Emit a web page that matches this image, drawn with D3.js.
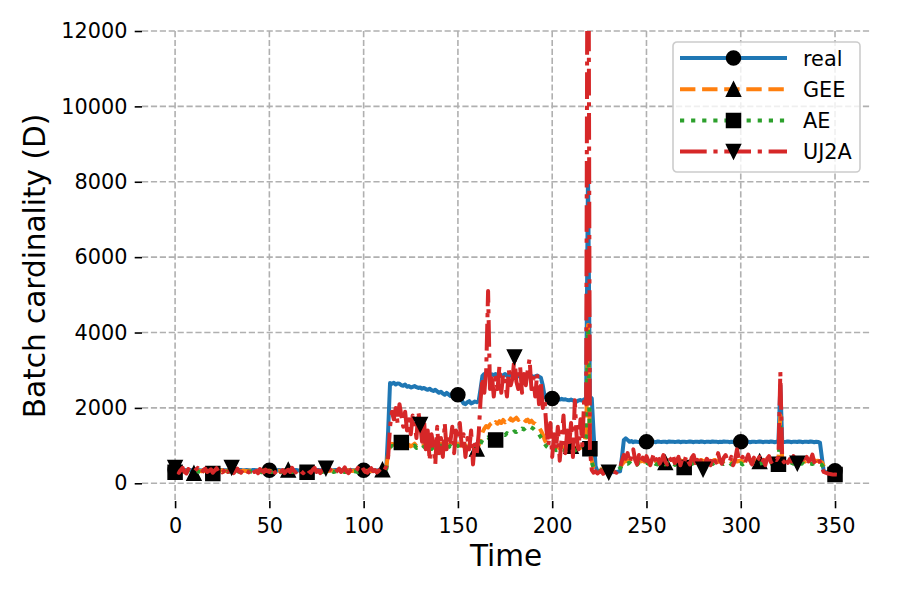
<!DOCTYPE html>
<meta charset="utf-8">
<style>
body { margin: 0; background: #fff; }
text { font-family: "DejaVu Sans", sans-serif; fill: #000; }
.grid line { stroke: #b0b0b0; stroke-width: 1.6; stroke-dasharray: 6.2,2.7; }
.axis-title { font-size: 29.5px; }
</style>
<body>

<script src="https://d3js.org/d3.v7.min.js"></script>
<script>
// values, one per time step (t = 0 .. 351)
const real = [
  360,350,345,355,340,350,345,338,352,347, 343,350,355,348,340,346,352,345,350,343,
  348,352,345,340,350,355,347,343,350,346, 352,345,340,348,355,350,342,346,351,345,
  340,350,355,347,343,350,346,352,345,340, 348,355,350,342,346,351,345,340,350,355,
  347,343,350,346,352,345,340,348,355,350, 342,346,351,345,340,350,355,347,343,350,
  346,352,345,340,348,355,350,342,346,351, 345,340,350,355,347,343,350,346,352,345,
  348,355,350,342,346,351,345,340,350,355, 347,352,380,1400,2660,2640,2665,2620,2650,2640,
  2600,2590,2620,2560,2580,2540,2560,2580,2550,2530, 2540,2510,2530,2500,2480,2510,2470,2450,2480,2440,
  2400,2430,2380,2350,2400,2360,2320,2380,2340,2370, 2350,2300,2200,2120,2100,2150,2180,2120,2140,2170,
  2150,2180,2500,2850,2900,2880,2920,2860,2890,2870, 2900,2860,2880,2840,2870,2900,2850,2880,2860,2830,
  2870,2840,2860,2820,2850,2880,2840,2860,2830,2850, 2820,2840,2860,2830,2800,2600,2300,2260,2270,2250,
  2250,2240,2230,2250,2220,2240,2220,2230,2210,2200, 2220,2200,2180,2170,2200,2210,2190,2230,2250,8300,
  2300,2250,1300,450,320,300,310,295,305,300, 300,310,295,305,300,310,320,700,1150,1190,
  1150,1100,1120,1090,1110,1100,1095,1110,1105,1090, 1100,1110,1095,1105,1100,1090,1110,1100,1095,1105,
  1100,1090,1110,1100,1105,1095,1100,1110,1090,1100, 1105,1095,1100,1110,1100,1090,1105,1100,1095,1110,
  1100,1090,1105,1100,1095,1110,1100,1105,1090,1100, 1095,1110,1100,1105,1090,1100,1095,1110,1100,1090,
  1100,1105,1095,1110,1100,1090,1100,1105,1095,1100, 1110,1100,1090,1105,1100,1095,1110,1100,1090,1100,
  1120,2600,1100,1095,1100,1110,1100,1090,1105,1100, 1095,1110,1100,1090,1105,1100,1095,1110,1100,1090,
  1100,1095,1080,700,320,300,295,305,300,310, 330,300
];
const gee = [
  330,320,340,325,335,310,330,345,320,335, 265,315,340,330,320,345,325,335,310,330,
  340,325,335,320,330,345,315,330,340,325, 320,335,330,345,325,315,340,330,320,335,
  330,325,345,320,335,330,310,340,325,330, 335,320,330,345,325,335,315,330,340,325,
  355,345,320,335,325,330,340,315,330,335, 325,340,330,320,345,330,325,335,320,330,
  340,325,330,345,320,335,330,325,340,330, 320,335,345,330,325,340,330,320,335,330,
  345,325,330,340,320,335,330,325,345,330, 360,340,420,800,1000,1050,1020,1060,1040,1010,
  1030,1060,1000,1040,1020,980,1010,1050,990,1030, 1000,970,1020,990,1040,1000,960,1010,980,1030,
  1000,1050,990,1020,970,1010,1040,1000,1060,1020, 1050,1000,1040,980,1010,960,990,940,970,930,
  910,1000,1150,1350,1450,1520,1480,1560,1600,1540, 1620,1580,1650,1600,1680,1620,1700,1640,1720,1660,
  1700,1740,1680,1720,1660,1700,1650,1690,1620,1660, 1600,1580,1520,1480,1400,1300,1150,1050,1000,980,
  950,980,940,960,930,970,950,920,960,940, 980,950,930,960,980,940,1000,1100,1300,4200,
  900,600,420,380,360,340,370,350,330,360, 340,350,370,345,360,380,420,500,560,600,
  580,620,570,610,590,560,620,580,600,570, 610,590,560,600,620,580,570,610,590,600,
  550,610,590,580,620,560,600,590,610,580, 590,620,570,600,580,610,590,560,600,620,
  580,600,570,610,590,580,620,600,570,590, 610,580,600,590,620,570,600,610,580,590,
  600,570,610,590,580,620,600,590,610,580, 580,600,620,580,610,590,600,570,610,620,
  600,1800,600,590,610,580,600,620,590,600, 580,610,590,600,570,610,590,600,580,610,
  590,600,570,560,450,330,300,280,270,260, 255,250
];
const ae = [
  290,300,320,305,315,295,310,325,300,315, 305,295,320,310,300,325,305,315,290,310,
  260,305,315,300,310,325,295,310,320,305, 300,315,310,325,305,295,320,310,300,315,
  310,305,325,300,315,310,290,320,305,310, 315,300,310,325,305,315,295,310,320,305,
  310,325,300,315,305,310,320,295,310,315, 290,320,310,300,325,310,305,315,300,310,
  320,305,310,325,300,315,310,305,320,310, 300,315,325,310,305,320,310,300,315,310,
  325,305,310,320,300,315,310,305,325,310, 315,320,380,750,960,990,970,1000,980,960,
  1080,1000,950,990,970,930,960,1000,940,980, 950,920,970,940,990,950,910,960,930,980,
  950,1000,940,970,920,960,990,950,1010,970, 1000,950,990,940,970,920,950,900,930,890,
  880,950,1050,1150,1200,1180,1220,1160,1200,1170, 1150,1220,1260,1240,1300,1280,1330,1300,1360,1340,
  1380,1360,1420,1400,1450,1430,1480,1460,1510,1480, 1450,1400,1350,1300,1220,1150,1050,980,940,920,
  890,920,880,900,870,910,890,860,900,880, 910,890,870,900,920,880,940,1000,1200,4100,
  915,550,400,360,340,320,350,330,310,340, 320,330,350,325,340,360,400,470,510,530,
  520,550,500,540,510,490,550,520,530,500, 540,520,490,530,550,510,500,540,520,530,
  500,540,520,510,550,490,530,520,540,510, 420,480,500,530,510,540,520,490,530,550,
  510,530,500,540,520,510,550,530,500,520, 540,510,530,520,550,500,530,540,510,520,
  530,500,540,520,510,550,530,520,540,510, 520,530,550,510,540,520,530,500,540,520,
  505,1600,530,520,540,510,530,550,520,530, 510,540,520,530,500,540,520,530,510,540,
  520,530,500,490,420,310,290,270,260,250, 230,240
];
const uj2a = [
  420,330,280,350,410,300,260,380,340,310, 290,360,410,320,270,350,390,300,330,370,
  280,340,400,310,360,290,330,420,300,350, 420,270,330,390,310,280,360,400,320,290,
  350,410,300,330,270,380,340,290,360,320, 300,370,420,280,340,390,310,350,270,330,
  360,300,410,330,290,350,380,310,270,340, 390,320,280,360,410,300,340,270,350,380,
  400,290,360,400,330,280,340,390,300,350, 420,310,270,350,380,300,330,410,290,340,
  370,300,280,360,400,320,350,290,330,380, 310,350,450,700,1500,1900,1700,2000,1600,2100,
  1800,1500,1900,1400,1700,1300,1800,1600,1200,1900, 1560,1100,1700,900,1400,600,1300,1000,500,1500,
  800,1200,700,1600,900,1300,1100,1500,800,1400, 1200,1600,1000,1300,700,1200,900,1400,500,1100,
  800,1300,2200,2800,2400,3000,5100,2500,2900,2300, 2800,2500,3100,2400,2900,2700,2300,3000,2600,2800,
  3350,2700,2500,3100,2400,2900,2600,3000,3300,2500, 2800,2300,2900,2100,2700,2000,2200,1400,1000,1600,
  700,1300,900,1500,600,1200,1800,800,1400,1000, 1600,700,2200,1200,900,1700,1000,2300,2100,20000,
  900,350,280,320,260,300,340,250,310,290, 290,270,330,300,280,350,400,600,750,650,
  800,550,700,900,620,500,750,580,680,520, 720,600,480,650,800,560,700,520,620,750,
  580,500,680,620,760,540,600,700,480,650, 560,720,600,500,680,750,540,620,460,600,
  370,520,650,580,480,720,620,550,800,600, 520,680,750,600,560,700,480,620,900,650,
  580,700,520,640,760,600,500,680,560,620, 700,540,620,480,650,720,560,600,680,620,
  700,2950,620,560,700,540,640,580,720,600, 530,680,600,640,520,700,580,620,760,560,
  640,700,560,420,300,280,260,250,240,230, 235,230
];

// where the markers sit (time steps)
const realMarks = [0, 50, 100, 150, 200, 250, 300, 350];
const geeMarks  = [10, 60, 110, 160, 210, 260, 310];
const aeMarks   = [0, 20, 70, 120, 170, 220, 270, 320, 350];
const uj2aMarks = [0, 30, 80, 130, 180, 230, 280, 330];

const seriesNames = ["real", "GEE", "AE", "UJ2A"];
const xTicks = [0, 50, 100, 150, 200, 250, 300, 350];
const yTicks = [0, 2000, 4000, 6000, 8000, 10000, 12000];

const series = [
  {name: seriesNames[0], values: real, marks: realMarks, color: "#1f77b4", dash: null, marker: "circle"},
  {name: seriesNames[1], values: gee,  marks: geeMarks,  color: "#ff7f0e", dash: "15.4,6.7", marker: "up"},
  {name: seriesNames[2], values: ae,   marks: aeMarks,   color: "#2ca02c", dash: "4.2,6.9", marker: "square"},
  {name: seriesNames[3], values: uj2a, marks: uj2aMarks, color: "#d62728", dash: "26.7,6.7,4.2,6.7", marker: "down"}
];

// set the dimensions and margins of the graph
const margin = {top: 31, right: 30, bottom: 99, left: 142},
      width = 900 - margin.left - margin.right,
      height = 600 - margin.top - margin.bottom;

var x = d3.scaleLinear().domain([-17.55, 368.55]).range([0, width]);
var y = d3.scaleLinear().domain([-470, 12000]).range([height, 0]);

var svg = d3.select("body").append("svg")
    .attr("width", 900)
    .attr("height", 600)
  .append("g")
    .attr("transform", "translate(" + margin.left + "," + margin.top + ")");

svg.append("clipPath").attr("id", "plot-clip")
  .append("rect").attr("width", width).attr("height", height);

// dashed grid
var grid = svg.append("g").attr("class", "grid");
grid.selectAll(".gx").data(xTicks).enter().append("line")
    .attr("x1", d => x(d)).attr("x2", d => x(d))
    .attr("y1", 0).attr("y2", height);
grid.selectAll(".gy").data(yTicks).enter().append("line")
    .attr("x1", 0).attr("x2", width)
    .attr("y1", d => y(d)).attr("y2", d => y(d));

// axes, spines hidden like matplotlib with frame off
function styleAxis(g) {
  g.attr("font-family", "DejaVu Sans").attr("font-size", 20.8);
  g.select(".domain").remove();
  g.selectAll(".tick line").attr("stroke", "#000").attr("stroke-width", 1.6);
}
svg.append("g")
    .attr("transform", "translate(0," + height + ")")
    .call(d3.axisBottom(x).tickValues(xTicks).tickFormat(d3.format("d")).tickSize(7.3).tickPadding(10))
    .call(styleAxis);
svg.append("g")
    .call(d3.axisLeft(y).tickValues(yTicks).tickFormat(d3.format("d")).tickSize(7.3).tickPadding(7.3))
    .call(styleAxis);

// axis titles
svg.append("text").attr("class", "axis-title")
    .attr("x", width / 2).attr("y", 566 - margin.top)
    .attr("text-anchor", "middle")
    .text("Time");
svg.append("text").attr("class", "axis-title")
    .attr("transform", "translate(" + (45 - margin.left) + "," + (height / 2) + ") rotate(-90)")
    .attr("text-anchor", "middle")
    .text("Batch cardinality (D)");

function markerPath(type) {
  const h = 7;
  if (type == "circle") return d3.symbol(d3.symbolCircle, Math.PI * h * h)();
  if (type == "square") return "M" + (-h) + "," + (-h) + "H" + h + "V" + h + "H" + (-h) + "Z";
  if (type == "up") return "M0," + (-h) + "L" + h + "," + h + "L" + (-h) + "," + h + "Z";
  return "M0," + h + "L" + h + "," + (-h) + "L" + (-h) + "," + (-h) + "Z";
}

var line = d3.line()
    .x((d, i) => x(i))
    .y(d => y(d));

var plot = svg.append("g").attr("clip-path", "url(#plot-clip)");

series.forEach(function(s) {
  var g = plot.append("g");
  g.append("path")
      .datum(s.values)
      .attr("fill", "none")
      .attr("stroke", s.color)
      .attr("stroke-width", 4)
      .attr("stroke-dasharray", s.dash)
      .attr("stroke-linejoin", "round")
      .attr("d", line);
  g.selectAll(".mk")
      .data(s.marks)
    .enter().append("path")
      .attr("transform", d => "translate(" + x(d) + "," + y(s.values[d]) + ")")
      .attr("d", markerPath(s.marker))
      .attr("fill", "#000")
      .attr("stroke", "#000")
      .attr("stroke-width", 1.5);
});

// legend
var lg = svg.append("g").attr("transform", "translate(" + (673 - margin.left) + "," + (42 - margin.top) + ")");
lg.append("rect")
    .attr("width", 187).attr("height", 130)
    .attr("rx", 4)
    .attr("fill", "#fff").attr("fill-opacity", 0.8)
    .attr("stroke", "#cccccc").attr("stroke-width", 1.6);

series.forEach(function(s, i) {
  var row = lg.append("g").attr("transform", "translate(0," + (16 + i * 31.2) + ")");
  row.append("line")
      .attr("x1", 7).attr("x2", 114)
      .attr("stroke", s.color)
      .attr("stroke-width", 4)
      .attr("stroke-dasharray", s.dash);
  row.append("path")
      .attr("transform", "translate(60.5,0)")
      .attr("d", markerPath(s.marker))
      .attr("fill", "#000")
      .attr("stroke", "#000")
      .attr("stroke-width", 1.5);
  row.append("text")
      .attr("x", 130).attr("y", 7.5)
      .attr("font-size", 20.8)
      .text(s.name);
});

</script>
</body>
